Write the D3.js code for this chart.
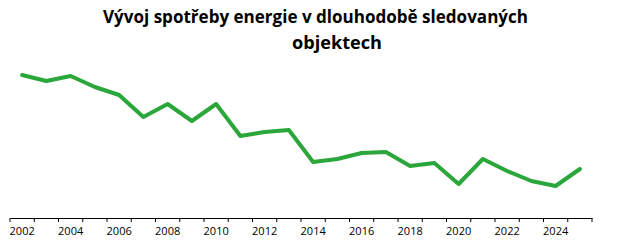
<!DOCTYPE html>
<html>
<head>
<meta charset="utf-8">
<script src="https://cdn.jsdelivr.net/npm/d3@7"></script>
<style>
  body { margin: 0; background: #fff; }
  svg { display: block; }
</style>
</head>
<body>
<svg id="chart"></svg>
<script>
// chart data
var years = [2002, 2003, 2004, 2005, 2006, 2007, 2008, 2009, 2010, 2011, 2012, 2013,
             2014, 2015, 2016, 2017, 2018, 2019, 2020, 2021, 2022, 2023, 2024, 2025];
var consumption = [143, 137, 142, 131, 123, 101, 114, 97, 114, 82, 86, 88,
                   56, 59, 65, 66, 52, 55, 34, 59, 47, 37, 32, 49];
var tickLabels = [2002, 2004, 2006, 2008, 2010, 2012, 2014, 2016, 2018, 2020, 2022, 2024];
var titleLines = ["Vývoj spotřeby energie v dlouhodobě sledovaných", "objektech"];

var width = 627, height = 244;
var svg = d3.select("#chart").attr("width", width).attr("height", height);

var x = d3.scaleBand().domain(years).range([10, 592]).padding(0);
var y = d3.scaleLinear().domain([0, 160]).range([218, 58]);

// title
svg.append("text")
    .attr("x", 315.5).attr("y", 23)
    .attr("text-anchor", "middle")
    .attr("font-family", "'Open Sans', sans-serif")
    .attr("font-weight", "bold")
    .attr("font-size", 18)
    .attr("textLength", 425)
    .attr("lengthAdjust", "spacingAndGlyphs")
    .text(titleLines[0]);
svg.append("text")
    .attr("x", 337).attr("y", 49)
    .attr("text-anchor", "middle")
    .attr("font-family", "'Open Sans', sans-serif")
    .attr("font-weight", "bold")
    .attr("font-size", 18)
    .attr("textLength", 90)
    .attr("lengthAdjust", "spacingAndGlyphs")
    .text(titleLines[1]);

// x axis: labels centred in categories, ticks on category boundaries
var axis = svg.append("g").attr("transform", "translate(0,218)");
axis.call(d3.axisBottom(x).tickValues(tickLabels).tickSize(0).tickPadding(9))
    .call(g => g.select(".domain").attr("stroke", "#000").attr("stroke-width", 1))
    .call(g => g.selectAll("text")
        .attr("font-family", "'Open Sans', sans-serif")
        .attr("font-size", 11)
        .attr("fill", "#000"));
axis.selectAll(".boundary")
    .data(years.map(d => x(d)).concat([x(years[years.length - 1]) + x.bandwidth()]))
    .enter()
    .append("line")
    .classed("boundary", true)
    .attr("x1", d => d).attr("x2", d => d)
    .attr("y1", 0).attr("y2", 4)
    .attr("stroke", "#000");

// line
var line = d3.line()
    .x((d, i) => x(years[i]) + x.bandwidth() / 2)
    .y(d => y(d));

svg.append("path")
    .datum(consumption)
    .attr("fill", "none")
    .attr("stroke", "#2aa63a")
    .attr("stroke-width", 4)
    .attr("stroke-linejoin", "round")
    .attr("stroke-linecap", "round")
    .attr("d", line);
</script>
</body>
</html>
